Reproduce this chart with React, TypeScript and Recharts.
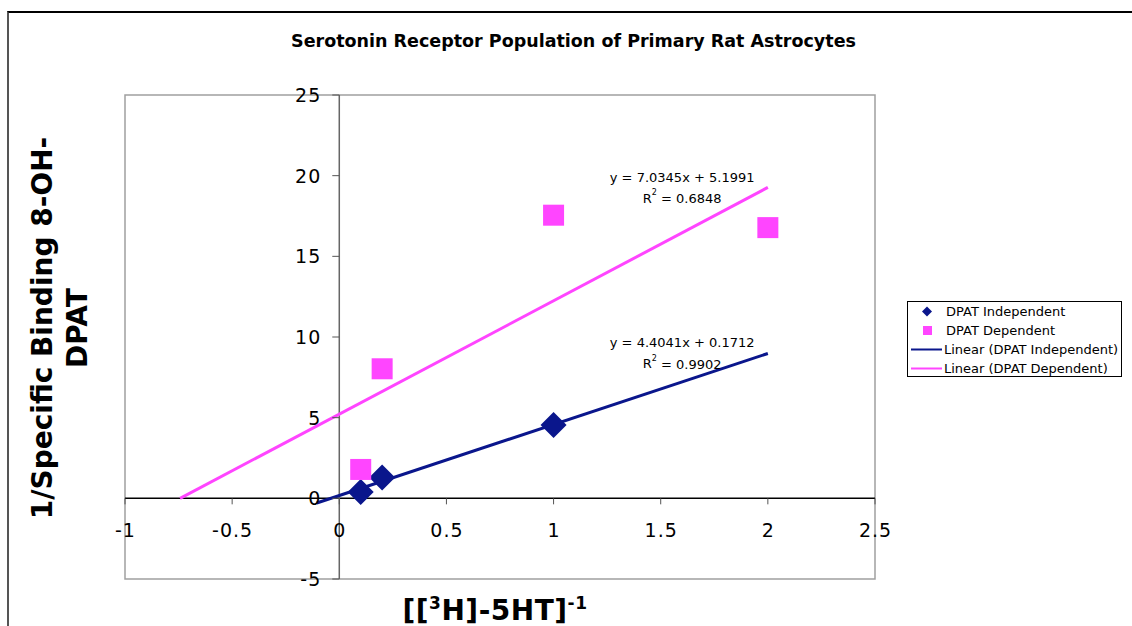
import React from "react";
import {
  ScatterChart, Scatter, XAxis, YAxis, ReferenceLine, ReferenceArea, ReferenceDot, Legend,
} from "recharts";

// values
const xTicks = [-1, -0.5, 0, 0.5, 1, 1.5, 2, 2.5];
const yTicks = [-5, 0, 5, 10, 15, 20, 25];

const indepX = [0.1, 0.2, 1];
const indepY = [0.39, 1.29, 4.54];
const depX = [0.1, 0.2, 1, 2];
const depY = [1.79, 8.03, 17.55, 16.78];

// trendlines as Excel drew them (end points)
const indepTrendX = [-0.105, 2];
const indepTrendY = [-0.29, 8.98];
const depTrendX = [-0.743, 2];
const depTrendY = [0, 19.27];

const indepEq = ["y = 4.4041x + 0.1712", "0.9902"];
const depEq = ["y = 7.0345x + 5.1991", "0.6848"];

const seriesNames = [
  "DPAT Independent",
  "DPAT Dependent",
  "Linear (DPAT Independent)",
  "Linear (DPAT Dependent)",
];

const NAVY = "#0a168c";
const PINK = "#ff45ff";
const FONT = "'DejaVu Sans', Verdana, sans-serif";

const W = 1132;
const H = 626;
const X_AXIS_H = 30;
const Y_AXIS_W = 60;
const M = { top: 95, right: 257, bottom: 47 - X_AXIS_H, left: 125 - Y_AXIS_W };
const PLOT_L = M.left + Y_AXIS_W;
const PLOT_W = W - PLOT_L - M.right;
const PLOT_H = H - M.top - M.bottom - X_AXIS_H;
const X_DOMAIN: [number, number] = [-1, 2.5];
const Y_DOMAIN: [number, number] = [-5, 25];
const zeroX = PLOT_L + (PLOT_W * (0 - X_DOMAIN[0])) / (X_DOMAIN[1] - X_DOMAIN[0]);
const zeroY = M.top + (PLOT_H * (Y_DOMAIN[1] - 0)) / (Y_DOMAIN[1] - Y_DOMAIN[0]);

const zip = (xs: number[], ys: number[]) => xs.map((x, i) => ({ x, y: ys[i] }));

const tickText = { fontSize: 19, fontFamily: FONT, fill: "#000", letterSpacing: 1 };

const XTick = (p: any) => (
  <g>
    <line x1={p.x} x2={p.x} y1={zeroY} y2={zeroY + 6} stroke="#555" />
    <text x={p.x + 0.5} y={zeroY + 32} textAnchor="middle" dominantBaseline="central" {...tickText}>
      {p.payload.value}
    </text>
  </g>
);

const YTick = (p: any) => (
  <g>
    <line x1={zeroX - 7} x2={zeroX} y1={p.y} y2={p.y} stroke="#555" />
    <text x={zeroX - 18} y={p.y} textAnchor="end" dominantBaseline="central" {...tickText}>
      {p.payload.value}
    </text>
  </g>
);

const Diamond = (p: any) => {
  const { cx, cy } = p;
  const r = 13;
  return <polygon points={`${cx},${cy - r} ${cx + r},${cy} ${cx},${cy + r} ${cx - r},${cy}`} fill={NAVY} />;
};

const Square = (p: any) => <rect x={p.cx - 10.5} y={p.cy - 10.5} width={21} height={21} fill={PINK} />;

const eqLabel = (eq: string[]) => (p: any) => (
  <g fontFamily={FONT} fontSize={13} fill="#000">
    <text x={p.cx} y={p.cy} textAnchor="middle" dominantBaseline="central">{eq[0]}</text>
    <text x={p.cx} y={p.cy + 21} textAnchor="middle" dominantBaseline="central">
      R<tspan fontSize={8} dy={-6}>2</tspan><tspan dy={6}>{" = " + eq[1]}</tspan>
    </text>
  </g>
);

const LegendBox = () => (
  <div style={{
    width: 213, height: 74, border: "1px solid #000", background: "#fff",
    fontFamily: FONT, fontSize: 13, color: "#000", boxSizing: "content-box",
  }}>
    {seriesNames.map((name, i) => (
      <div key={name} style={{ height: 19, display: "flex", alignItems: "center" }}>
        <svg width={36} height={19} style={{ flex: "none" }}>
          {i === 0 && <polygon points="19,4.5 24,9.5 19,14.5 14,9.5" fill={NAVY} />}
          {i === 1 && <rect x={15} y={5} width={9} height={9} fill={PINK} />}
          {i >= 2 && <line x1={3} x2={34} y1={9.5} y2={9.5} stroke={i === 2 ? NAVY : PINK} strokeWidth={2} />}
        </svg>
        <span style={{ whiteSpace: "nowrap", marginLeft: i >= 2 ? 0 : 2 }}>{name}</span>
      </div>
    ))}
  </div>
);

export default function App() {
  return (
    <div style={{ position: "relative", width: W, height: H, overflow: "hidden", fontFamily: FONT }}>
      <style>{"body{margin:0}"}</style>
      <div style={{
        position: "absolute", left: 7, top: 11, width: 1125, height: 615,
        borderTop: "2px solid #000", borderLeft: "2px solid #555", boxSizing: "border-box",
      }} />
      <div style={{
        position: "absolute", left: 8, width: 1131, top: 32, textAlign: "center",
        fontWeight: "bold", fontSize: 17.5, lineHeight: "18px",
      }}>
        Serotonin Receptor Population of Primary Rat Astrocytes
      </div>
      <div style={{
        position: "absolute", left: 60 - 220, top: 328 - 35, width: 440, height: 70,
        transform: "rotate(-90deg)", textAlign: "center", fontWeight: "bold",
        fontSize: 28, lineHeight: "35px",
      }}>
        1/Specific Binding 8-OH-<br />DPAT
      </div>
      <div style={{
        position: "absolute", left: PLOT_L - 5, width: PLOT_W, top: 597, textAlign: "center",
        fontWeight: "bold", fontSize: 28, lineHeight: "28px", letterSpacing: 0.5,
      }}>
        [[<span style={{ fontSize: 17, position: "relative", top: -11 }}>3</span>H]-5HT]
        <span style={{ fontSize: 17, position: "relative", top: -11 }}>-1</span>
      </div>
      <ScatterChart width={W} height={H} margin={M} style={{ position: "absolute", left: 0, top: 0 }}>
        <XAxis type="number" dataKey="x" domain={X_DOMAIN} ticks={xTicks} interval={0}
          height={X_AXIS_H} axisLine={false} tickLine={false} tick={XTick} allowDataOverflow />
        <YAxis type="number" dataKey="y" domain={Y_DOMAIN} ticks={yTicks} interval={0}
          width={Y_AXIS_W} axisLine={false} tickLine={false} tick={YTick} allowDataOverflow />
        <ReferenceArea x1={X_DOMAIN[0]} x2={X_DOMAIN[1]} y1={Y_DOMAIN[0]} y2={Y_DOMAIN[1]}
          fill="none" stroke="#a0a0a0" strokeWidth={1.5} />
        <ReferenceLine y={0} stroke="#000" strokeWidth={1.5} />
        <ReferenceLine x={0} stroke="#666" strokeWidth={1.5} />
        <Scatter name={seriesNames[2]} data={zip(indepTrendX, indepTrendY)} line={{ stroke: NAVY, strokeWidth: 3 }}
          shape={() => <g />} legendType="none" isAnimationActive={false} />
        <Scatter name={seriesNames[3]} data={zip(depTrendX, depTrendY)} line={{ stroke: PINK, strokeWidth: 3 }}
          shape={() => <g />} legendType="none" isAnimationActive={false} />
        <Scatter name={seriesNames[0]} data={zip(indepX, indepY)} shape={Diamond} isAnimationActive={false} />
        <Scatter name={seriesNames[1]} data={zip(depX, depY)} shape={Square} isAnimationActive={false} />
        <ReferenceDot x={1.6} y={19.9} r={0} shape={eqLabel(depEq)} ifOverflow="visible" />
        <ReferenceDot x={1.6} y={9.65} r={0} shape={eqLabel(indepEq)} ifOverflow="visible" />
        <Legend layout="vertical" align="center" verticalAlign="middle" content={<LegendBox />}
          wrapperStyle={{ position: "absolute", left: 907, top: 301, width: 215, height: 76 }} />
      </ScatterChart>
    </div>
  );
}
